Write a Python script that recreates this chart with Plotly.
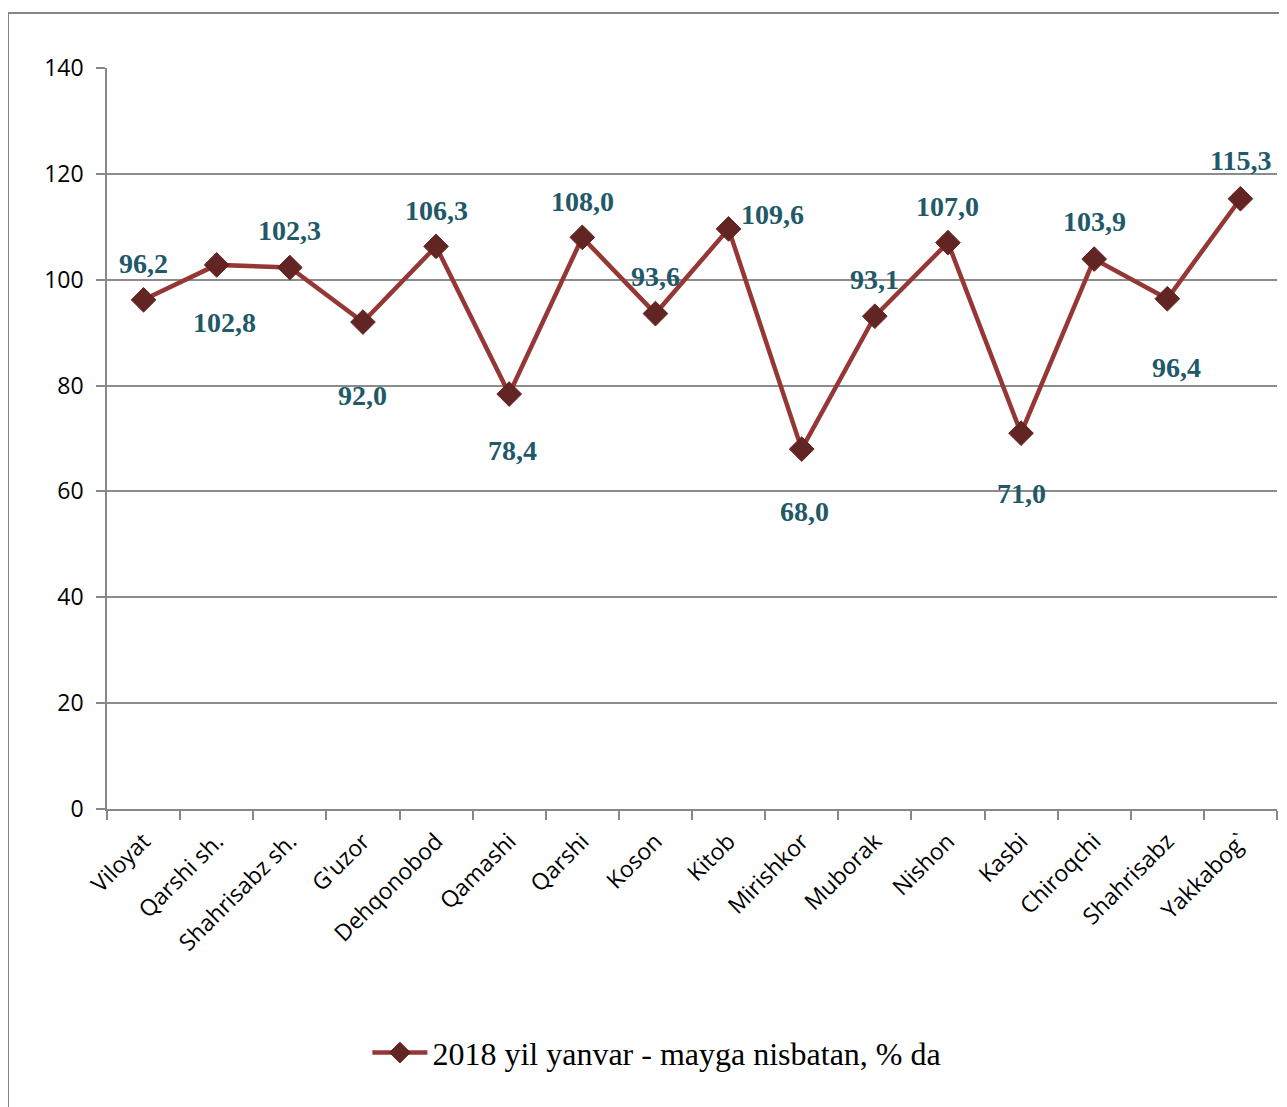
import plotly.graph_objects as go

categories = ["Viloyat", "Qarshi sh.", "Shahrisabz sh.", "G'uzor", "Dehqonobod", "Qamashi",
              "Qarshi", "Koson", "Kitob", "Mirishkor", "Muborak", "Nishon", "Kasbi",
              "Chiroqchi", "Shahrisabz", "Yakkabog`"]
values = [96.2, 102.8, 102.3, 92.0, 106.3, 78.4, 108.0, 93.6, 109.6, 68.0, 93.1, 107.0,
          71.0, 103.9, 96.4, 115.3]
series_name = "2018 yil yanvar - mayga nisbatan, % da"
y_ticks = [0, 20, 40, 60, 80, 100, 120, 140]

# label offsets (pixels) for data labels
label_dx = [0, 8, 0, 0, 0, 3, 0, 0, 44, 3, 0, 0, 0, 0, 9, 0]
label_dy = [-36, 58, -37, 73, -36, 56, -36, -37, -14, 62, -37, -36, 60, -38, 69, -38]

fig = go.Figure()
fig.add_trace(go.Scatter(
    x=categories, y=values, mode="lines+markers", name=series_name,
    line=dict(color="#953735", width=4.5),
    marker=dict(symbol="diamond", size=19, color="#632523",
                line=dict(color="#632523", width=1)),
))

for c, v, dx, dy in zip(categories, values, label_dx, label_dy):
    fig.add_annotation(
        x=c, y=v, text=f"{v:.1f}".replace(".", ","), showarrow=False,
        xshift=dx, yshift=-dy,
        font=dict(family="Liberation Serif", size=28, color="#215968", weight="bold"),
    )

fig.update_layout(
    width=1287, height=1107,
    margin=dict(l=99, r=18, t=60, b=306),
    paper_bgcolor="white", plot_bgcolor="white",
    showlegend=True,
    legend=dict(x=0.47, y=-0.329, xanchor="center", yanchor="middle",
                orientation="h", itemwidth=55,
                font=dict(family="Liberation Serif", size=32, color="black")),
    xaxis=dict(
        type="category", tickson="boundaries", ticks="outside", ticklen=9,
        tickcolor="#888888", tickwidth=1.5,
        showgrid=False, showline=True, linecolor="#888888", linewidth=1.5,
        tickangle=-45,
        tickfont=dict(family="Open Sans", size=23, color="black"),
        ticklabelstandoff=8,
        range=[-0.5, 15.5],
    ),
    yaxis=dict(
        range=[0, 140], tickvals=y_ticks, ticks="outside", ticklen=9,
        tickcolor="#888888", tickwidth=1.5,
        showgrid=True, gridcolor="#8c8c8c", gridwidth=1.5,
        showline=True, linecolor="#888888", linewidth=1.5,
        zeroline=False,
        tickfont=dict(family="Open Sans", size=23, color="black"),
        ticklabelstandoff=8,
    ),
    shapes=[dict(type="rect", xref="paper", yref="paper",
                 x0=-0.0846, x1=1.05, y0=-0.6, y1=1.0742,
                 line=dict(color="#868686", width=2), fillcolor="rgba(0,0,0,0)",
                 layer="below")],
)

fig.write_html("out.html")
